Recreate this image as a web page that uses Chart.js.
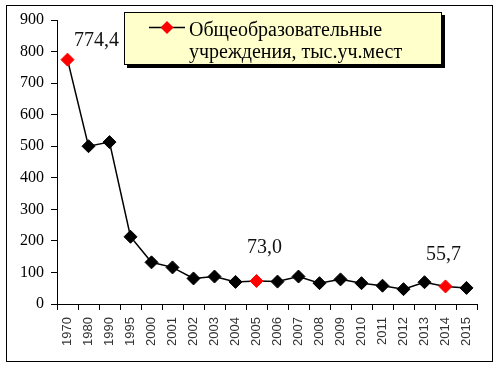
<!DOCTYPE html>
<html>
<head>
<meta charset="utf-8">
<script src="https://cdn.jsdelivr.net/npm/chart.js@4"></script>
<style>
  body { margin: 0; background: #fff; }
</style>
</head>
<body>
<canvas id="placesChart" width="500" height="370"></canvas>
<script>
const years = ['1970', '1980', '1990', '1995', '2000', '2001', '2002', '2003', '2004', '2005',
               '2006', '2007', '2008', '2009', '2010', '2011', '2012', '2013', '2014', '2015'];
const places = [774.4, 500, 513, 213, 132, 116, 81, 87, 70, 73.0,
                71, 87, 66, 78, 66, 58, 47, 69, 55.7, 51];
const labelledYears = ['1970', '2005', '2014'];
const seriesName = ['Общеобразовательные', 'учреждения, тыс.уч.мест'];
const yMin = 0, yMax = 900, yStep = 100;

const serif = 'Liberation Serif, Times New Roman, serif';
const sans = 'Liberation Sans, Arial, sans-serif';

// where each value label sits relative to its point
const labelOffset = { '1970': [29, -14], '2005': [8, -28], '2014': [-2, -26] };

const pointColors = years.map(y => labelledYears.includes(y) ? '#ff0000' : '#000');

const extras = {
  id: 'extras',
  afterDatasetsDraw(chart) {
    const c = chart.ctx;
    const pts = chart.getDatasetMeta(0).data;
    c.save();
    c.font = '20px ' + serif;
    c.fillStyle = '#111';
    c.textAlign = 'center';
    c.textBaseline = 'alphabetic';
    labelledYears.forEach(y => {
      const i = years.indexOf(y);
      const p = pts[i];
      const off = labelOffset[y];
      c.fillText(places[i].toFixed(1).replace('.', ','), p.x + off[0], p.y + off[1]);
    });
    c.restore();
  },
  afterDraw(chart) {
    const c = chart.ctx;
    c.save();
    // outer frame
    c.strokeStyle = '#000';
    c.lineWidth = 1;
    c.strokeRect(6.5, 5.5, 486, 356);

    // legend box with shadow
    c.fillStyle = '#000';
    c.fillRect(127, 15, 318, 53);
    c.fillStyle = '#ffffcc';
    c.fillRect(124, 12, 318, 53);
    c.strokeRect(124.5, 12.5, 317, 52);

    // legend marker
    c.beginPath();
    c.moveTo(149, 27.5);
    c.lineTo(185, 27.5);
    c.lineWidth = 1.5;
    c.stroke();
    c.fillStyle = '#ff0000';
    c.beginPath();
    c.moveTo(167, 21); c.lineTo(173.5, 27.5); c.lineTo(167, 34); c.lineTo(160.5, 27.5);
    c.closePath();
    c.fill();

    c.fillStyle = '#000';
    c.font = '20px ' + serif;
    c.textAlign = 'left';
    c.textBaseline = 'alphabetic';
    c.fillText(seriesName[0], 189, 36);
    c.fillText(seriesName[1], 189, 58);
    c.restore();
  }
};

const ctx = document.getElementById('placesChart').getContext('2d');
const placesChart = new Chart(ctx, {
  type: 'line',
  data: {
    labels: years,
    datasets: [{
      label: seriesName.join(' '),
      data: places,
      borderColor: '#000',
      borderWidth: 1.5,
      tension: 0,
      pointStyle: 'rectRot',
      pointRadius: 6.5,
      pointHoverRadius: 6.5,
      pointBackgroundColor: pointColors,
      pointBorderColor: pointColors,
      pointBorderWidth: 1
    }]
  },
  options: {
    responsive: false,
    animation: false,
    layout: { padding: { left: 0, top: 20, right: 23, bottom: 0 } },
    scales: {
      x: {
        offset: true,
        grid: { offset: true, drawOnChartArea: false, tickLength: 6, color: '#000' },
        border: { color: '#000', width: 1 },
        ticks: {
          minRotation: 90,
          maxRotation: 90,
          autoSkip: false,
          padding: 7,
          color: '#333',
          font: { family: sans, size: 13 }
        },
        afterFit(scale) { scale.height = 66; }
      },
      y: {
        min: yMin,
        max: yMax,
        grid: { drawOnChartArea: false, tickLength: 6, color: '#000' },
        border: { color: '#000', width: 1 },
        ticks: {
          stepSize: yStep,
          padding: 7,
          color: '#000',
          font: { family: serif, size: 16 }
        },
        afterFit(scale) { scale.width = 57; }
      }
    },
    plugins: {
      legend: { display: false },
      tooltip: { enabled: false }
    }
  },
  plugins: [extras]
});
</script>
</body>
</html>
